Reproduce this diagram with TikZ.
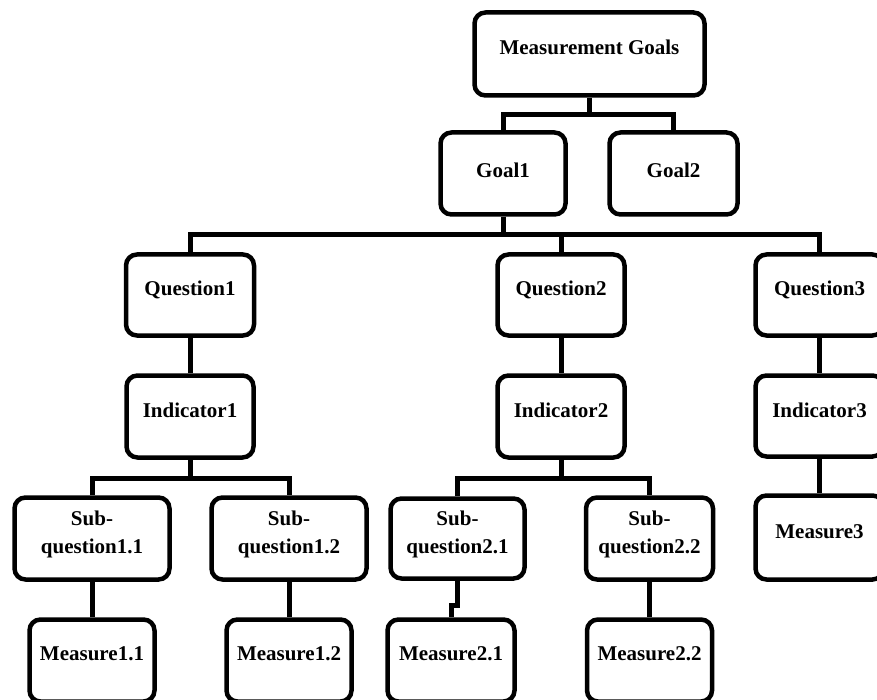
\documentclass[tikz,border=0pt]{standalone}
\usepackage{fontspec}
\setmainfont{Liberation Serif}
\begin{document}
\begin{tikzpicture}[x=1pt,y=-1pt,
  box/.style n args={2}{draw, line width=4.5pt, rounded corners=11pt, inner sep=0pt,
    minimum width=#1, minimum height=#2},
  boxtext/.style={font=\bfseries\fontsize{21}{28}\selectfont, align=center, inner sep=0pt},
  link/.style={line width=5pt},
]
\useasboundingbox (0,0) rectangle (877,700);
\clip (0,0) rectangle (877,700);

% top level
\node[box={230pt}{83pt}, label={[boxtext,yshift=7pt]center:Measurement Goals}] (mg) at (589.5,54) {};
\node[box={125pt}{82pt}, label={[boxtext,yshift=3pt]center:Goal1}] (g1) at (503,173.5) {};
\node[box={128pt}{82pt}, label={[boxtext,yshift=3pt]center:Goal2}] (g2) at (673.5,173.5) {};

% questions and indicators
\node[box={128pt}{81pt}, label={[boxtext,yshift=5pt]center:Question1}] (q1) at (190,295) {};
\node[box={127pt}{82pt}, label={[boxtext,yshift=6pt]center:Indicator1}] (i1) at (190,416.5) {};
\node[box={127pt}{81pt}, label={[boxtext,yshift=5pt]center:Question2}] (q2) at (561,295) {};
\node[box={127pt}{82pt}, label={[boxtext,yshift=6pt]center:Indicator2}] (i2) at (561,416.5) {};
\node[box={128pt}{81pt}, label={[boxtext,yshift=5pt]center:Question3}] (q3) at (819.5,295) {};
\node[box={128pt}{81pt}, label={[boxtext,yshift=6pt]center:Indicator3}] (i3) at (819.5,416) {};
\node[box={128pt}{84pt}, label={[boxtext,yshift=6pt]center:Measure3}] (m3) at (819.5,537.5) {};

% sub-questions
\node[box={155pt}{82pt}, label={[boxtext,yshift=4pt]center:Sub-\\question1.1}] (s11) at (92,538.5) {};
\node[box={155pt}{82pt}, label={[boxtext,yshift=4pt]center:Sub-\\question1.2}] (s12) at (289,538.5) {};
\node[box={134pt}{80pt}, label={[boxtext,yshift=4pt]center:Sub-\\question2.1}] (s21) at (457.5,538.5) {};
\node[box={127pt}{82pt}, label={[boxtext,yshift=4pt]center:Sub-\\question2.2}] (s22) at (649.5,538.5) {};

% measures
\node[box={125pt}{82pt}, label={[boxtext,yshift=7pt]center:Measure1.1}] (m11) at (92,660.5) {};
\node[box={125pt}{82pt}, label={[boxtext,yshift=7pt]center:Measure1.2}] (m12) at (289,660.5) {};
\node[box={127pt}{82pt}, label={[boxtext,yshift=7pt]center:Measure2.1}] (m21) at (451,660.5) {};
\node[box={125pt}{82pt}, label={[boxtext,yshift=7pt]center:Measure2.2}] (m22) at (649.5,660.5) {};

% bus rails
\coordinate (goalbus) at (588,115);
\coordinate (qbus) at (503,235);
\coordinate (sbus1) at (190,478);
\coordinate (sbus2) at (561,478);
\coordinate (jog) at (451,605);

% connectors
\draw[link] (mg.south) -- (mg.south |- goalbus);
\draw[link] (g1.north) |- (goalbus) -| (g2.north);

\draw[link] (g1.south) -- (qbus);
\draw[link] (q1.north) |- (qbus) -| (q3.north);
\draw[link] (q2.north) -- (q2.north |- qbus);

\draw[link] (q1.south) -- (i1.north);
\draw[link] (q2.south) -- (i2.north);
\draw[link] (q3.south) -- (i3.north);
\draw[link] (i3.south) -- (m3.north);

\draw[link] (i1.south) -- (sbus1);
\draw[link] (s11.north) |- (sbus1) -| (s12.north);
\draw[link] (i2.south) -- (sbus2);
\draw[link] (s21.north) |- (sbus2) -| (s22.north);

\draw[link] (s11.south) -- (m11.north);
\draw[link] (s12.south) -- (m12.north);
\draw[link] (s21.south) |- (jog) -- (m21.north);
\draw[link] (s22.south) -- (m22.north);
\end{tikzpicture}
\end{document}
